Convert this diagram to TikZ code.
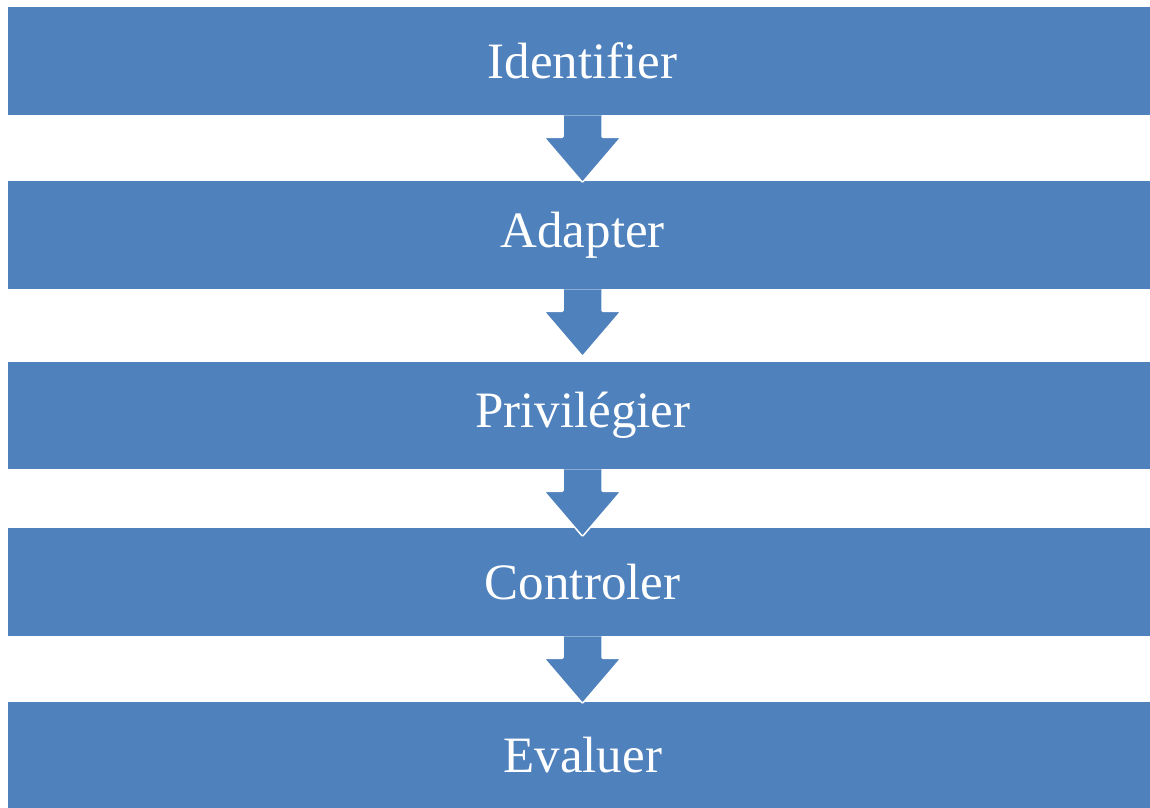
\documentclass[tikz,border=0pt]{standalone}
\usepackage{fontspec}
\setmainfont{Liberation Serif}
\definecolor{boxblue}{HTML}{4F81BD}
\begin{document}
\begin{tikzpicture}[x=1pt,y=-1pt,
  stepbox/.style={fill=boxblue,draw=none,minimum width=1142pt,minimum height=108pt,inner sep=0pt,anchor=north west,
     text=white,font=\fontsize{51}{60}\selectfont},
  downarrow/.style={fill=boxblue,draw=white,line width=1.5pt,rounded corners=1pt}]
\useasboundingbox (0,0) rectangle (1150,807);
\node[stepbox] (b1) at (8,7) {\hspace*{7pt}Identifier};
\node[stepbox] (b2) at (8,181) {\hspace*{7pt}Adapter};
\node[stepbox,minimum height=107pt] (b3) at (8,362) {\hspace*{7pt}Privilégier};
\node[stepbox] (b4) at (8,528) {\hspace*{7pt}Controler};
\node[stepbox,minimum height=106pt] (b5) at (8,702) {\hspace*{7pt}Evaluer};
\foreach \s/\t in {b1/b2,b2/b3,b3/b4,b4/b5}{
  \draw[downarrow] (\s.south -| 563,0) -- ++(0,22) -- ++(-19,0) -- ++(38.5,45) -- ++(38.5,-45) -- ++(-19,0) -- ++(0,-22);
}
\end{tikzpicture}
\end{document}
